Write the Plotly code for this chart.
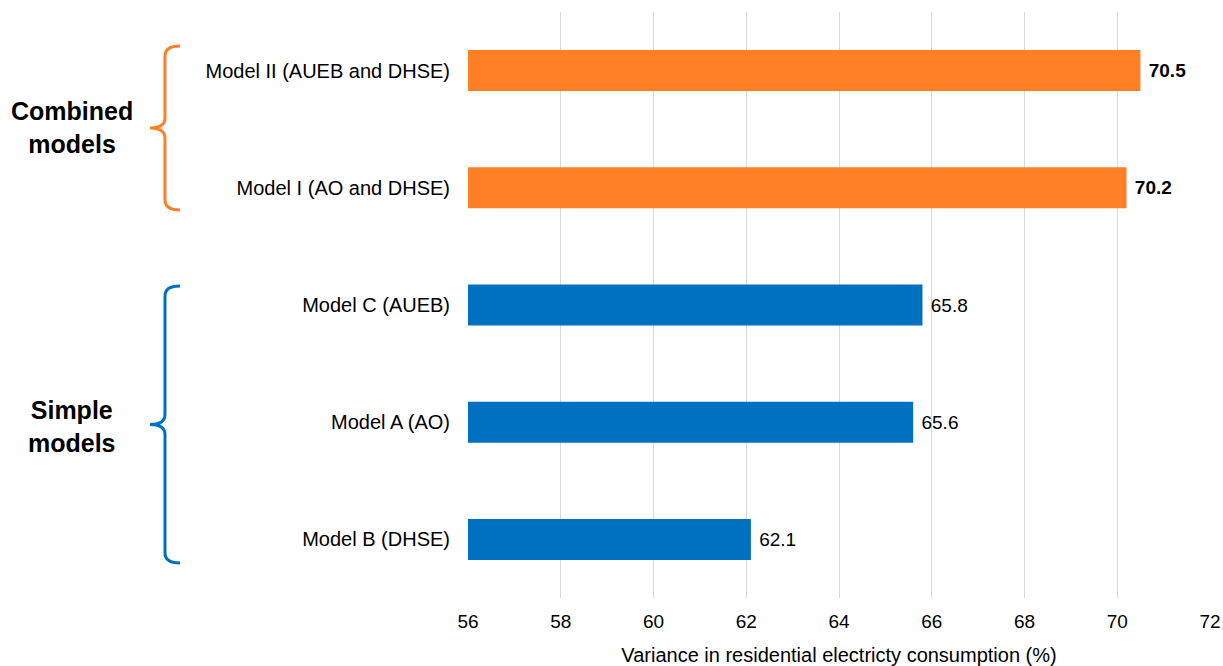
import plotly.graph_objects as go

# bottom -> top, as plotly draws categories on a horizontal bar chart
modelos = [
    "Model B (DHSE)",
    "Model A (AO)",
    "Model C (AUEB)",
    "Model I (AO and DHSE)",
    "Model II (AUEB and DHSE)",
]
variancia = [62.1, 65.6, 65.8, 70.2, 70.5]
grupo = ["simple", "simple", "simple", "combined", "combined"]

x_ticks = [56, 58, 60, 62, 64, 66, 68, 70, 72]

_ORANGE = "#FF7F27"
_BLUE = "#0070C0"
_FONT = "Liberation Sans, Arial, sans-serif"

W, H = 1223, 666
# plot area: x 468..1210, y 12..598
L, R, T, B = 468, W - 1210, 12, H - 598


def px2paper(x, y):
    """Pixel -> coordenada paper do plot."""
    return (x - L) / (W - L - R), (H - B - y) / (H - T - B)


def brace_path(y_top, y_bot, x_end=180, x_mid=165, x_tip=150, r=10):
    yc = (y_top + y_bot) / 2
    pts = [
        ("M", (x_end, y_top)),
        ("Q", (x_mid, y_top), (x_mid, y_top + r)),
        ("L", (x_mid, yc - r)),
        ("Q", (x_mid, yc), (x_tip, yc)),
        ("Q", (x_mid, yc), (x_mid, yc + r)),
        ("L", (x_mid, y_bot - r)),
        ("Q", (x_mid, y_bot), (x_end, y_bot)),
    ]
    out = []
    for cmd, *xy in pts:
        coords = " ".join("%.5f,%.5f" % px2paper(*p) for p in xy)
        out.append(f"{cmd} {coords}")
    return " ".join(out)


cores = [_ORANGE if g == "combined" else _BLUE for g in grupo]
textos = [f" <b>{v}</b>" if g == "combined" else f" {v}" for v, g in zip(variancia, grupo)]

fig = go.Figure()
fig.add_trace(go.Bar(
    x=variancia,
    y=modelos,
    orientation="h",
    marker=dict(color=cores, line=dict(width=0)),
    width=0.35,
    text=textos,
    textposition="outside",
    textfont=dict(size=19, color="#000000", family=_FONT),
    cliponaxis=False,
    showlegend=False,
))

fig.update_xaxes(
    range=[56, 72],
    tickvals=x_ticks,
    showgrid=True,
    gridcolor="#D9D9D9",
    gridwidth=1,
    zeroline=False,
    showline=False,
    automargin=False,
    tickfont=dict(size=19, color="#000000", family=_FONT),
    ticklabelstandoff=10,
    title=dict(
        text="Variance in residential electricty consumption (%)",
        font=dict(size=20, color="#000000", family=_FONT),
        standoff=26,
    ),
)
fig.update_yaxes(
    showgrid=False,
    zeroline=False,
    showline=False,
    automargin=False,
    tickfont=dict(size=20, color="#000000", family=_FONT),
    ticklabelstandoff=17,
)

fig.add_shape(type="path", xref="paper", yref="paper",
              path=brace_path(46, 210), line=dict(color=_ORANGE, width=3))
fig.add_shape(type="path", xref="paper", yref="paper",
              path=brace_path(286, 563), line=dict(color=_BLUE, width=3))

for label, yy in [("Combined models", 128), ("Simple models", 426)]:
    ax, ay = px2paper(72, yy)
    fig.add_annotation(
        text="<b>" + label.replace(" ", "<br>") + "</b>",
        xref="paper", yref="paper",
        x=ax, y=ay,
        xanchor="center", yanchor="middle",
        showarrow=False,
        font=dict(size=25, color="#000000", family=_FONT),
    )

fig.update_layout(
    width=W,
    height=H,
    margin=dict(l=L, r=R, t=T, b=B),
    template="plotly_white",
    plot_bgcolor="#FFFFFF",
    paper_bgcolor="#FFFFFF",
    bargap=0.65,
)

# tira a margem padrao do body para a figura ocupar a janela inteira
fig.write_html(
    "out.html",
    config={"displayModeBar": False},
    post_script="document.body.style.margin='0';document.body.style.overflow='hidden';",
)
